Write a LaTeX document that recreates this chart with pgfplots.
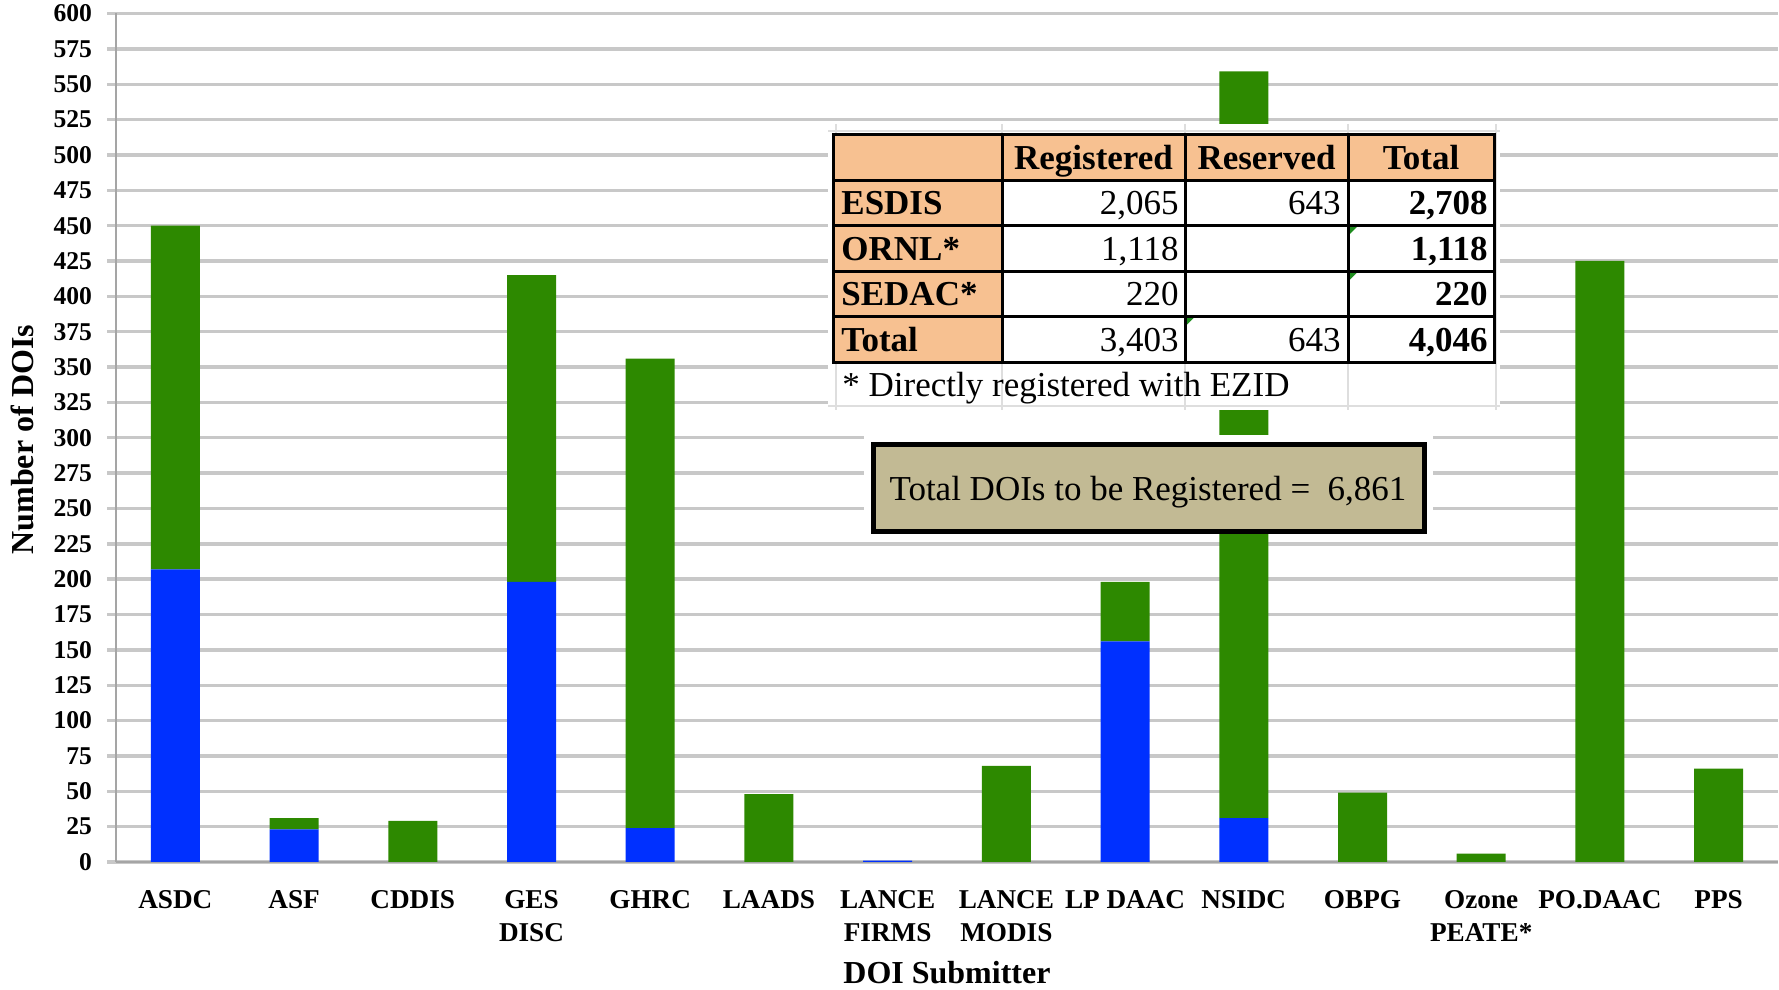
\documentclass[border=0pt]{standalone}
\usepackage{fontspec}
\setmainfont{Liberation Serif}
\usepackage{pgfplots}
\pgfplotsset{compat=1.18}
\definecolor{barblue}{RGB}{0,48,255}
\definecolor{bargreen}{RGB}{45,137,0}
\definecolor{gridgray}{RGB}{200,200,200}
\definecolor{axisgray}{RGB}{165,165,165}
\definecolor{peach}{RGB}{247,193,145}
\definecolor{tanbox}{RGB}{194,186,148}
\definecolor{cellgray}{RGB}{222,222,222}
\definecolor{errgreen}{RGB}{30,140,30}
\begin{document}
\begin{tikzpicture}
\begin{axis}[
  scale only axis, width=831pt, height=424.25pt,
  xmin=-0.5, xmax=13.5, ymin=0, ymax=600,
  ybar stacked, bar width=24.5pt,
  axis x line*=bottom, axis y line*=left,
  axis line style={axisgray, line width=1.2pt},
  xtick={0,...,13},
  xticklabels={ASDC, ASF, CDDIS, {GES\\DISC}, GHRC, LAADS, {LANCE\\FIRMS}, {LANCE\\MODIS}, LP DAAC, NSIDC, OBPG, {Ozone\\PEATE*}, PO.DAAC, PPS},
  xtick style={draw=none},
  extra x ticks={-0.5,0.5,...,13.5},
  extra x tick labels={},
  extra x tick style={grid=none, major tick length=4.5pt, tick style={draw=axisgray, line width=1pt}},
  ytick={0,25,...,600},
  tick align=outside,
  major tick length=4.5pt,
  ytick style={draw=gridgray, line width=1.7pt},
  ymajorgrids,
  grid style={gridgray, line width=1.7pt},
  /pgf/number format/assume math mode=true,
  yticklabel style={xshift=-4pt, font=\fontsize{12.8}{14}\selectfont\bfseries},
  xticklabel style={yshift=-6pt, align=center, font=\fontsize{13.6}{16.7}\selectfont\bfseries},
  xlabel={DOI Submitter},
  ylabel={Number of DOIs},
  xlabel style={at={(axis description cs:0.5,-0.1308)}, anchor=center, font=\fontsize{16}{18}\selectfont\bfseries},
  ylabel style={at={(axis description cs:-0.0560,0.4977)}, anchor=center, font=\fontsize{16}{18}\selectfont\bfseries},
]
% Blue segment (reserved)
\addplot[fill=barblue, draw=none] coordinates {
  (0,207) (1,23) (2,0) (3,198) (4,24) (5,0) (6,1) (7,0) (8,156) (9,31) (10,0) (11,0) (12,0) (13,0)};
% Green segment (registered)
\addplot[fill=bargreen, draw=none] coordinates {
  (0,243) (1,8) (2,29) (3,217) (4,332) (5,48) (6,0) (7,68) (8,42) (9,528) (10,49) (11,6) (12,425) (13,66)};
\end{axis}
\begin{scope}[shift={(current axis.south west)}, xshift=-58pt, yshift=431pt, x=0.5pt, y=-0.5pt]
  % table area
  \fill[white] (828,124) rectangle (1500,410);
  \draw[cellgray, line width=0.6pt] (828,131) -- (1500,131);
  \draw[cellgray, line width=0.6pt] (828,406) -- (1500,406);
  \foreach \cx in {836,1002,1185,1348,1496} \draw[cellgray, line width=0.6pt] (\cx,124) -- (\cx,410);
  \fill[peach] (833,135) rectangle (1494,180.7);
  \fill[peach] (833,135) rectangle (1002,362.3);
  \fill[white] (1002,180.7) rectangle (1494,362.3);
  % error indicator triangles
  \fill[errgreen] (1348,226) -- (1358,226) -- (1348,236) -- cycle;
  \fill[errgreen] (1348,271.7) -- (1358,271.7) -- (1348,281.7) -- cycle;
  \fill[errgreen] (1185,316.7) -- (1195,316.7) -- (1185,326.7) -- cycle;
  \draw[black, line width=1.5pt] (833,135) rectangle (1494,362.3);
  \foreach \cx in {1002,1185,1348} \draw[black, line width=1.5pt] (\cx,135) -- (\cx,362.3);
  \foreach \ry in {180.7,226,271.7,316.7} \draw[black, line width=1.5pt] (833,\ry) -- (1494,\ry);
  \begin{scope}[every node/.style={font=\fontsize{17.5}{19}\selectfont, inner sep=0pt}]
    \node[anchor=mid, font=\fontsize{17.5}{19}\selectfont\bfseries] at (1093.5,165) {Registered};
    \node[anchor=mid, font=\fontsize{17.5}{19}\selectfont\bfseries] at (1266.5,165) {Reserved};
    \node[anchor=mid, font=\fontsize{17.5}{19}\selectfont\bfseries] at (1421,165) {Total};
    \node[anchor=mid west, font=\fontsize{17.5}{19}\selectfont\bfseries] at (841,210.4) {ESDIS};
    \node[anchor=mid west, font=\fontsize{17.5}{19}\selectfont\bfseries] at (841,255.9) {ORNL*};
    \node[anchor=mid west, font=\fontsize{17.5}{19}\selectfont\bfseries] at (841,301.2) {SEDAC*};
    \node[anchor=mid west, font=\fontsize{17.5}{19}\selectfont\bfseries] at (841,346.5) {Total};
    \node[anchor=mid east] at (1179,210.4) {2,065};
    \node[anchor=mid east] at (1179,255.9) {1,118};
    \node[anchor=mid east] at (1179,301.2) {220};
    \node[anchor=mid east] at (1179,346.5) {3,403};
    \node[anchor=mid east] at (1341,210.4) {643};
    \node[anchor=mid east] at (1341,346.5) {643};
    \node[anchor=mid east, font=\fontsize{17.5}{19}\selectfont\bfseries] at (1488,210.4) {2,708};
    \node[anchor=mid east, font=\fontsize{17.5}{19}\selectfont\bfseries] at (1488,255.9) {1,118};
    \node[anchor=mid east, font=\fontsize{17.5}{19}\selectfont\bfseries] at (1488,301.2) {220};
    \node[anchor=mid east, font=\fontsize{17.5}{19}\selectfont\bfseries] at (1488,346.5) {4,046};
    \node[anchor=mid west] at (842,392) {* Directly registered with EZID};
  \end{scope}
  % total box
  \fill[white] (864,435) rectangle (1433,534);
  \draw[black, line width=2.5pt, fill=tanbox] (873.5,444.2) rectangle (1424.2,531.5);
  \node[anchor=mid, inner sep=0pt, font=\fontsize{17.5}{19}\selectfont] at (1148,495.5) {Total DOIs to be Registered =\ \ 6,861};
  \pgfresetboundingbox
  \path[use as bounding box] (0,0) rectangle (1779,990);
\end{scope}
\end{tikzpicture}
\end{document}
